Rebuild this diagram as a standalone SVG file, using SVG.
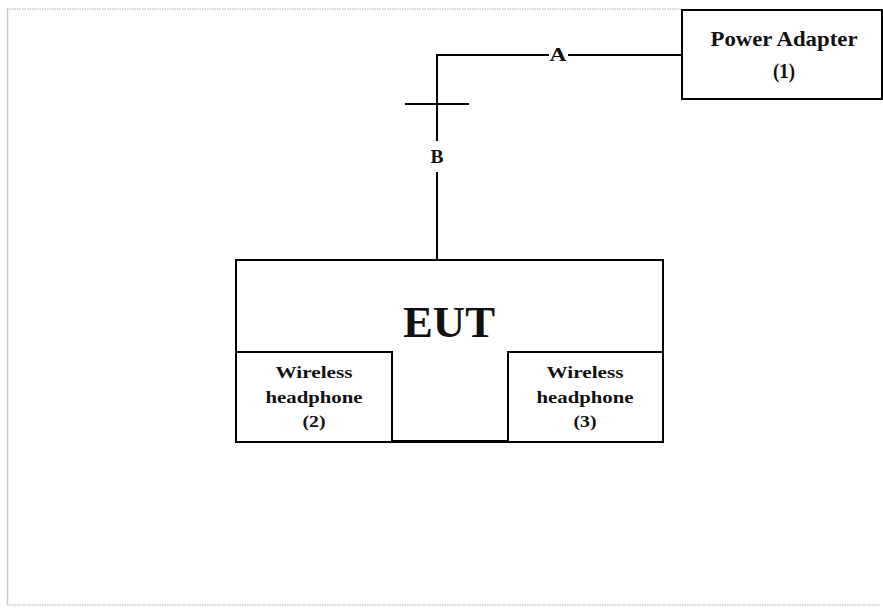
<svg xmlns="http://www.w3.org/2000/svg" width="883" height="610" viewBox="0 0 883 610">
<style>
.box{fill:#fff;stroke:#000;stroke-width:2}
.wire{fill:none;stroke:#000;stroke-width:2}
.t{font-family:"Liberation Serif","Times New Roman",serif;font-weight:bold;fill:#111;text-anchor:middle}
.frame{fill:none;stroke:#c8c8c8;stroke-width:1.5}
.frame-dot{fill:none;stroke:#c8c8c8;stroke-width:1.5;stroke-dasharray:1.5 1}
</style>
<rect width="883" height="610" fill="#fff"/>
<g id="frame">
<line class="frame-dot" x1="7" y1="9" x2="682" y2="9"/>
<line class="frame" x1="7.5" y1="9" x2="7.5" y2="605"/>
<line class="frame-dot" x1="7" y1="605" x2="880" y2="605"/>
</g>
<g id="connectors">
<polyline class="wire" points="682,55 568,55"/>
<polyline class="wire" points="549,55 437,55 437,141"/>
<line class="wire" x1="437" y1="172" x2="437" y2="260"/>
<line class="wire" x1="405" y1="104" x2="469" y2="104"/>
<text class="t" x="558" y="61" font-size="18" textLength="17" lengthAdjust="spacingAndGlyphs">A</text>
<text class="t" x="437" y="163" font-size="19" textLength="13" lengthAdjust="spacingAndGlyphs">B</text>
</g>
<g id="power-adapter">
<rect class="box" x="682" y="10" width="200" height="89"/>
<text class="t" x="784" y="46" font-size="21" textLength="147" lengthAdjust="spacingAndGlyphs">Power Adapter</text>
<text class="t" x="784" y="78" font-size="21" textLength="22" lengthAdjust="spacingAndGlyphs">(1)</text>
</g>
<g id="eut">
<rect class="box" x="236" y="260" width="427" height="182"/>
<line x1="392" y1="441.5" x2="508" y2="441.5" stroke="#000" stroke-width="3"/>
<text class="t" x="449" y="337" font-size="45" textLength="92" lengthAdjust="spacingAndGlyphs">EUT</text>
</g>
<g id="headphone-2">
<rect class="box" x="236" y="352" width="156" height="90"/>
<text class="t" x="314" y="378" font-size="17" textLength="77" lengthAdjust="spacingAndGlyphs">Wireless</text>
<text class="t" x="314" y="403" font-size="17" textLength="97" lengthAdjust="spacingAndGlyphs">headphone</text>
<text class="t" x="314" y="427" font-size="17" textLength="23" lengthAdjust="spacingAndGlyphs">(2)</text>
</g>
<g id="headphone-3">
<rect class="box" x="508" y="352" width="155" height="90"/>
<text class="t" x="585" y="378" font-size="17" textLength="77" lengthAdjust="spacingAndGlyphs">Wireless</text>
<text class="t" x="585" y="403" font-size="17" textLength="97" lengthAdjust="spacingAndGlyphs">headphone</text>
<text class="t" x="585" y="427" font-size="17" textLength="23" lengthAdjust="spacingAndGlyphs">(3)</text>
</g>
</svg>
